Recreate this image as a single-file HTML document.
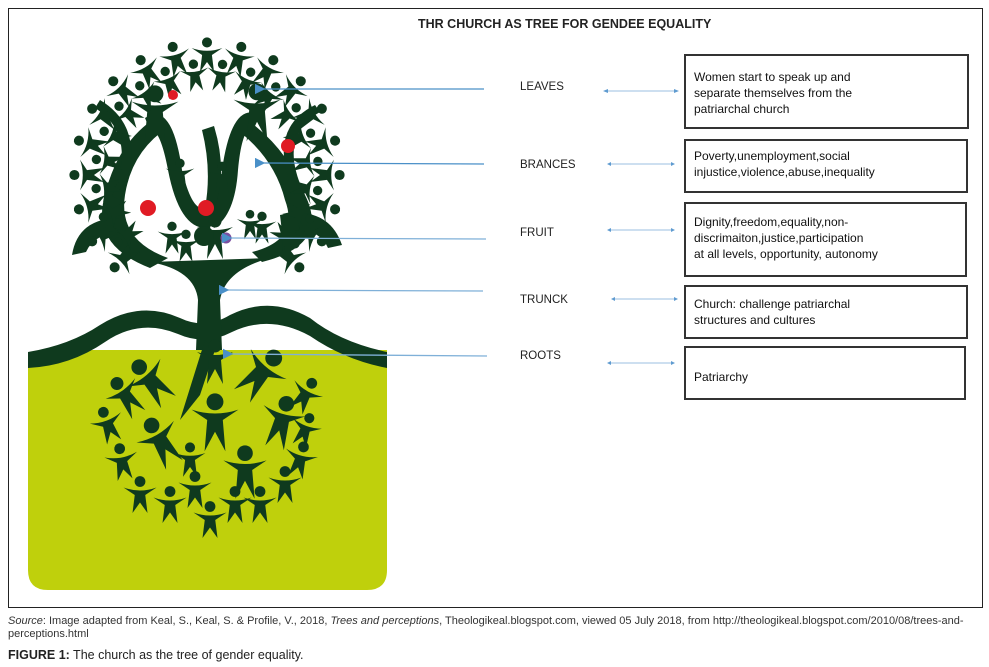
<!DOCTYPE html>
<html><head><meta charset="utf-8"><style>
body{margin:0;background:#fff;width:989px;height:667px;overflow:hidden;font-family:"Liberation Sans",sans-serif;}
.t{position:absolute;font-size:11.5px;color:#222;white-space:nowrap}
.box{position:absolute;border:2px solid #333;box-sizing:border-box;font-size:12px;line-height:16px;padding:12px 8px;color:#111}
</style></head><body>
<div style="position:absolute;left:8px;top:8px;width:975px;height:600px;border:1.5px solid #222;box-sizing:border-box"></div>
<div class="t" style="left:418px;top:17px;font-weight:bold;font-size:12.5px">THR CHURCH AS TREE FOR GENDEE EQUALITY</div>

<svg width="989" height="667" style="position:absolute;left:0;top:0">
<defs>
<marker id="a" markerWidth="8" markerHeight="8" refX="1" refY="4" orient="auto"><path d="M8,0 L0,4 L8,8 Z" fill="#4a90c8"/></marker>
<g id="p"><circle cx="0" cy="-9" r="3.6"/><path d="M-11,-5 Q0,-1 11,-5 L3.5,0 L5,12 L0,5 L-5,12 L-3.5,0 Z"/></g>
<g id="P"><circle cx="0" cy="-14" r="6.5"/><path d="M-18,-8 Q0,-2 18,-8 L6,0 L8,24 L0,9 L-8,24 L-6,0 Z"/></g>
</defs>
<!-- ground -->
<path d="M28,360 Q28,352 40,350 L387,350 L387,570 Q387,590 367,590 L48,590 Q28,590 28,570 Z" fill="#bfd00c"/>
<path d="M28,352 Q70,345 100,325 Q140,300 180,318 Q205,330 230,315 Q270,295 310,318 Q340,342 387,352 L387,368 Q345,360 310,336 Q270,314 232,332 Q205,346 178,334 Q140,318 105,342 Q70,366 28,368 Z" fill="#0f3a1e"/>
<g fill="#0f3a1e">
<!-- trunk -->
<path d="M150,262 Q195,270 198,300 L196,350 L222,350 L220,300 Q225,270 270,258 Z"/>
<path d="M205,340 L180,420 L200,395 L215,350 Z"/>
<!-- big branches -->
<path d="M150,268 Q90,245 105,195 Q118,140 160,115 L170,126 Q132,150 125,195 Q118,240 168,258 Z"/>
<path d="M262,262 Q330,245 305,195 Q288,150 250,122 L240,132 Q275,160 285,200 Q300,240 252,252 Z"/>
<path d="M120,218 Q78,218 72,255 L86,252 Q95,232 125,232 Z"/>
<path d="M280,215 Q328,205 342,245 L328,248 Q318,225 282,232 Z"/>
<path d="M145,118 Q172,100 182,170 Q192,212 205,208 Q212,170 202,130 L214,126 Q230,178 210,228 Q180,232 168,170 Q160,128 150,130 Z"/>
<path d="M260,115 Q232,100 222,170 Q218,208 210,215 L214,228 Q235,215 238,170 Q242,125 255,126 Z"/>
<path d="M100,100 Q150,130 120,200 L112,196 Q138,135 95,108 Z"/>
<path d="M315,105 Q265,130 295,195 L303,191 Q278,135 320,112 Z"/>
<use href="#P" transform="translate(155,112) scale(1.3)"/><use href="#P" transform="translate(257,110) scale(1.3)"/><use href="#P" transform="translate(215,235)"/>
<use href="#P" transform="translate(215,360)"/>
<circle cx="204" cy="236" r="10"/>
<!-- canopy ring -->
<g transform="translate(207,175)">
<use href="#p" transform="rotate(-135) translate(0,-118) scale(1.4)"/>
<use href="#p" transform="rotate(-120) translate(0,-120) scale(1.4)"/>
<use href="#p" transform="rotate(-105) translate(0,-120) scale(1.4)"/>
<use href="#p" transform="rotate(-90) translate(0,-120) scale(1.4)"/>
<use href="#p" transform="rotate(-75) translate(0,-120) scale(1.4)"/>
<use href="#p" transform="rotate(-60) translate(0,-120) scale(1.4)"/>
<use href="#p" transform="rotate(-45) translate(0,-120) scale(1.4)"/>
<use href="#p" transform="rotate(-30) translate(0,-120) scale(1.4)"/>
<use href="#p" transform="rotate(-15) translate(0,-120) scale(1.4)"/>
<use href="#p" transform="rotate(0) translate(0,-120) scale(1.4)"/>
<use href="#p" transform="rotate(15) translate(0,-120) scale(1.4)"/>
<use href="#p" transform="rotate(30) translate(0,-120) scale(1.4)"/>
<use href="#p" transform="rotate(45) translate(0,-120) scale(1.4)"/>
<use href="#p" transform="rotate(60) translate(0,-120) scale(1.4)"/>
<use href="#p" transform="rotate(75) translate(0,-120) scale(1.4)"/>
<use href="#p" transform="rotate(90) translate(0,-120) scale(1.4)"/>
<use href="#p" transform="rotate(105) translate(0,-120) scale(1.4)"/>
<use href="#p" transform="rotate(120) translate(0,-120) scale(1.4)"/>
<use href="#p" transform="rotate(135) translate(0,-118) scale(1.4)"/>
<use href="#p" transform="rotate(-127) translate(0,-100) scale(1.3)"/>
<use href="#p" transform="rotate(-112) translate(0,-100) scale(1.3)"/>
<use href="#p" transform="rotate(-97) translate(0,-100) scale(1.3)"/>
<use href="#p" transform="rotate(-82) translate(0,-100) scale(1.3)"/>
<use href="#p" transform="rotate(-67) translate(0,-100) scale(1.3)"/>
<use href="#p" transform="rotate(-52) translate(0,-100) scale(1.3)"/>
<use href="#p" transform="rotate(-37) translate(0,-100) scale(1.3)"/>
<use href="#p" transform="rotate(-22) translate(0,-100) scale(1.3)"/>
<use href="#p" transform="rotate(-7) translate(0,-100) scale(1.3)"/>
<use href="#p" transform="rotate(8) translate(0,-100) scale(1.3)"/>
<use href="#p" transform="rotate(23) translate(0,-100) scale(1.3)"/>
<use href="#p" transform="rotate(38) translate(0,-100) scale(1.3)"/>
<use href="#p" transform="rotate(53) translate(0,-100) scale(1.3)"/>
<use href="#p" transform="rotate(68) translate(0,-100) scale(1.3)"/>
<use href="#p" transform="rotate(83) translate(0,-100) scale(1.3)"/>
<use href="#p" transform="rotate(98) translate(0,-100) scale(1.3)"/>
<use href="#p" transform="rotate(113) translate(0,-100) scale(1.3)"/>
<use href="#p" transform="rotate(128) translate(0,-100) scale(1.3)"/>
</g>
<use href="#p" transform="translate(180,175) scale(1.3)"/><use href="#p" transform="translate(222,178) scale(1.3)"/>
<use href="#p" transform="translate(262,228) scale(1.3)"/><use href="#p" transform="translate(250,225) scale(1.2)"/>
<use href="#p" transform="translate(172,238) scale(1.3)"/><use href="#p" transform="translate(186,246) scale(1.3)"/>
<!-- roots -->
<use href="#P" transform="translate(150,380) rotate(-40) scale(1.2)"/>
<use href="#P" transform="translate(262,372) rotate(40) scale(1.3)"/>
<use href="#P" transform="translate(215,420) scale(1.3)"/>
<use href="#P" transform="translate(160,440) rotate(-30) scale(1.2)"/>
<use href="#P" transform="translate(245,470) scale(1.2)"/>
<use href="#P" transform="translate(282,420) rotate(15) scale(1.2)"/>
<use href="#P" transform="translate(125,395) rotate(-35)"/>
<use href="#p" transform="translate(108,425) rotate(-20) scale(1.5)"/>
<use href="#p" transform="translate(122,462) rotate(-10) scale(1.5)"/>
<use href="#p" transform="translate(140,495) scale(1.5)"/>
<use href="#p" transform="translate(170,505) scale(1.5)"/>
<use href="#p" transform="translate(195,490) scale(1.5)"/>
<use href="#p" transform="translate(210,520) scale(1.5)"/>
<use href="#p" transform="translate(235,505) scale(1.5)"/>
<use href="#p" transform="translate(260,505) scale(1.5)"/>
<use href="#p" transform="translate(285,485) scale(1.5)"/>
<use href="#p" transform="translate(300,460) rotate(15) scale(1.5)"/>
<use href="#p" transform="translate(305,395) rotate(30) scale(1.5)"/>
<use href="#p" transform="translate(190,460) scale(1.4)"/>
<use href="#p" transform="translate(305,430) rotate(20) scale(1.4)"/>
</g>
<g fill="#e01b24"><circle cx="173" cy="95" r="5"/><circle cx="288" cy="146" r="7"/><circle cx="148" cy="208" r="8"/><circle cx="206" cy="208" r="8"/><circle cx="226" cy="238" r="5.5" fill="#7a4fa0"/></g>
<!-- long arrows -->
<g stroke="#4a90c8" stroke-width="1.3" fill="none">
<line x1="484" y1="89" x2="264" y2="89" marker-end="url(#a)"/>
<line x1="484" y1="164" x2="264" y2="163" marker-end="url(#a)"/>
<line x1="486" y1="239" x2="231" y2="238" marker-end="url(#a)" stroke="#7fb0d8"/>
<line x1="483" y1="291" x2="228" y2="290" marker-end="url(#a)" stroke="#7fb0d8"/>
<line x1="487" y1="356" x2="232" y2="354" marker-end="url(#a)" stroke="#7fb0d8"/>
</g>
<g stroke="#9bbfe0" stroke-width="1">
<line x1="605" y1="91" x2="677" y2="91"/>
<line x1="609" y1="164" x2="673" y2="164"/>
<line x1="609" y1="230" x2="673" y2="230"/>
<line x1="613" y1="299" x2="676" y2="299"/>
<line x1="609" y1="363" x2="673" y2="363"/>
</g>
<g fill="#5f9bd0">
<path d="M603,91 l5,-2 v4z M679,91 l-5,-2 v4z"/>
<path d="M607,164 l4,-2 v4z M675,164 l-4,-2 v4z"/>
<path d="M607,230 l4,-2 v4z M675,230 l-4,-2 v4z"/>
<path d="M611,299 l4,-2 v4z M678,299 l-4,-2 v4z"/>
<path d="M607,363 l4,-2 v4z M675,363 l-4,-2 v4z"/>
</g>
</svg>

<div class="t" style="left:520px;top:81px">LEAVES</div>
<div class="t" style="left:520px;top:159px">BRANCES</div>
<div class="t" style="left:520px;top:227px">FRUIT</div>
<div class="t" style="left:520px;top:294px">TRUNCK</div>
<div class="t" style="left:520px;top:350px">ROOTS</div>

<div class="box" style="left:684px;top:54px;width:285px;height:75px;padding-top:13px">Women start to speak up and<br>separate themselves from the<br>patriarchal church</div>
<div class="box" style="left:684px;top:139px;width:284px;height:54px;padding-top:7px">Poverty,unemployment,social<br>injustice,violence,abuse,inequality</div>
<div class="box" style="left:684px;top:202px;width:283px;height:75px;padding-top:10px">Dignity,freedom,equality,non-<br>discrimaiton,justice,participation<br>at all levels, opportunity, autonomy</div>
<div class="box" style="left:684px;top:285px;width:284px;height:54px;padding-top:9px">Church: challenge patriarchal<br>structures and cultures</div>
<div class="box" style="left:684px;top:346px;width:282px;height:54px;padding-top:21px">Patriarchy</div>

<div class="t" style="left:8px;top:615px;font-size:11px;line-height:13px;color:#333"><i>Source</i>: Image adapted from Keal, S., Keal, S. &amp; Profile, V., 2018, <i>Trees and perceptions</i>, Theologikeal.blogspot.com, viewed 05 July 2018, from http://theologikeal.blogspot.com/2010/08/trees-and-<br>perceptions.html</div>
<div class="t" style="left:8px;top:648px;font-size:12.5px;color:#222"><b>FIGURE 1:</b> The church as the tree of gender equality.</div>
</body></html>
